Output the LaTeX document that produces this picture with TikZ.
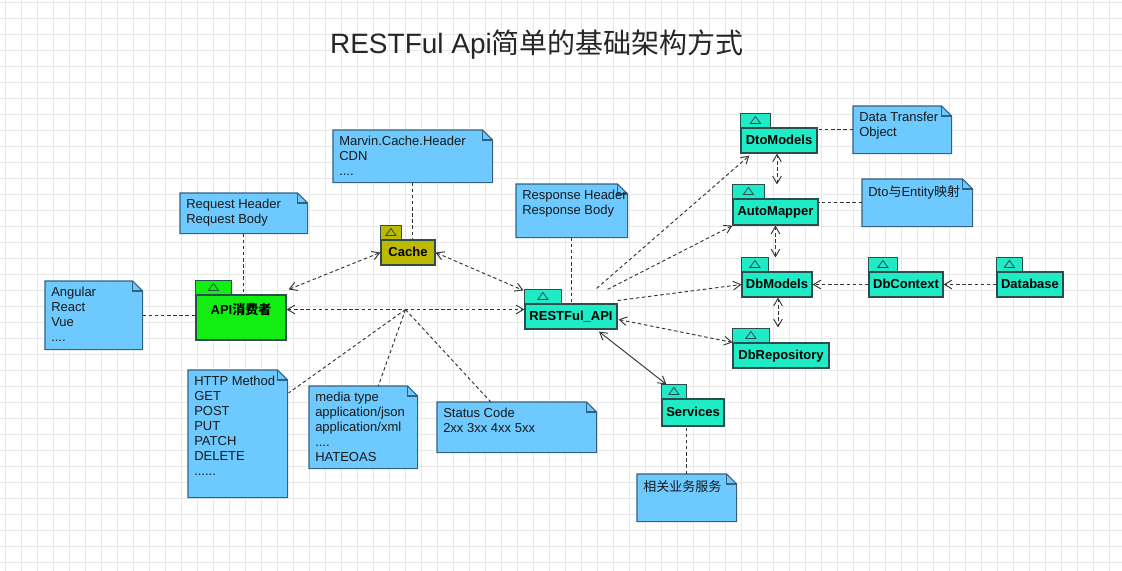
\documentclass[tikz,border=0pt]{standalone}
\usepackage{fontspec}
\setmainfont{Liberation Sans}
\newfontfamily\cjk{Noto Sans CJK SC}
\usetikzlibrary{arrows.meta,calc,backgrounds}

\definecolor{pkggreen}{HTML}{12EE12}
\definecolor{pkgolive}{HTML}{BDB800}
\definecolor{pkgteal}{HTML}{1FEBC6}
\definecolor{pkgline}{HTML}{2A4D4D}
\definecolor{notefill}{HTML}{6DC9FE}
\definecolor{noteline}{HTML}{33607F}
\definecolor{linkgray}{HTML}{333333}
\definecolor{gridgray}{HTML}{E8E8E8}

\tikzset{
  pkg/.style={draw=pkgline, line width=0.9pt, inner sep=0pt,
    text height=7.2pt, text depth=1.8pt,
    font=\fontsize{9.75}{11}\selectfont\bfseries},
  note/.style={anchor=north west, inner xsep=4.5pt, inner ysep=4.5pt,
    font=\fontsize{9.75}{11.25}\selectfont, text=black!90},
  link/.style={linkgray, line width=0.7pt, dash pattern=on 2.6pt off 2pt},
}

% note text box: width px, height px, text
\newcommand\notetext[3]{\begin{minipage}[c][\dimexpr#2pt*3/4-9pt\relax][t]{\dimexpr#1pt*3/4-9pt\relax}\raggedright\rightskip=0pt minus 20pt#3\end{minipage}}
% package tab: node, tab width px, fill
\newcommand\pkgtab[3]{%
  \draw[draw=pkgline, line width=0.9pt, fill=#3] (#1.north west) rectangle ++(#2,-14);
  \draw[pkgline, line width=0.6pt] ($(#1.north west)+(#2/2-5,-4)$) -- ++(10,0) -- ++(-5,-7) -- cycle;
}
% note outline with folded corner
\newcommand\noteshape[1]{%
  \draw[draw=noteline, line width=0.8pt, fill=notefill]
    (#1.north west) -- ($(#1.north east)+(-10,0)$) -- ($(#1.north east)+(0,10)$)
    -- (#1.south east) -- (#1.south west) -- cycle;
  \draw[noteline, line width=0.8pt] ($(#1.north east)+(-10,0)$) -- ++(0,10) -- ($(#1.north east)+(0,10)$);
}

\begin{document}
\begin{tikzpicture}[x=0.75pt, y=-0.75pt, >={Straight Barb[length=5.5pt,width=6.5pt]}]
  \useasboundingbox (0,0) rectangle (1122,571);
  % Grid
  \begin{scope}[on background layer]
    \fill[white] (0,0) rectangle (1122,571);
    \foreach \gx in {5,21,...,1121} \draw[gridgray, line width=0.6pt] (\gx,0) -- (\gx,571);
    \foreach \gy in {2,18,...,570} \draw[gridgray, line width=0.6pt] (0,\gy) -- (1122,\gy);
  \end{scope}
  % Title
  \node[font=\fontsize{21}{24}\selectfont, text=black!85] (title) at (537,45) {RESTFul Api{\cjk 简单的基础架构方式}};
  % Packages
  \node[pkg, fill=pkggreen, minimum width=90*0.75pt, text height=14.6pt, text depth=19.1pt] (api) at (241,317.5) {API{\cjk 消费者}};
  \node[pkg, fill=pkgolive, minimum width=54*0.75pt, minimum height=25*0.75pt] (cache) at (408,252.5) {Cache};
  \node[pkg, fill=pkgteal, minimum width=92*0.75pt, minimum height=25*0.75pt] (rest) at (571,316.5) {RESTFul\_API};
  \node[pkg, fill=pkgteal, minimum width=76*0.75pt, minimum height=25*0.75pt] (dto) at (779,140.5) {DtoModels};
  \node[pkg, fill=pkgteal, minimum width=85*0.75pt, minimum height=26*0.75pt] (automap) at (775.5,212) {AutoMapper};
  \node[pkg, fill=pkgteal, minimum width=70*0.75pt, minimum height=25*0.75pt] (dbmodels) at (777,284.5) {DbModels};
  \node[pkg, fill=pkgteal, minimum width=74*0.75pt, minimum height=25*0.75pt] (dbcontext) at (906,284.5) {DbContext};
  \node[pkg, fill=pkgteal, minimum width=66*0.75pt, minimum height=25*0.75pt] (database) at (1030,284.5) {Database};
  \node[pkg, fill=pkgteal, minimum width=96*0.75pt, minimum height=25*0.75pt] (dbrepo) at (781,355.5) {DbRepository};
  \node[pkg, fill=pkgteal, minimum width=62*0.75pt, minimum height=27*0.75pt] (services) at (693,412.5) {Services};
  \pkgtab{api}{36}{pkggreen}
  \pkgtab{cache}{21}{pkgolive}
  \pkgtab{rest}{37}{pkgteal}
  \pkgtab{dto}{30}{pkgteal}
  \pkgtab{automap}{32}{pkgteal}
  \pkgtab{dbmodels}{27}{pkgteal}
  \pkgtab{dbcontext}{29}{pkgteal}
  \pkgtab{database}{26}{pkgteal}
  \pkgtab{dbrepo}{37}{pkgteal}
  \pkgtab{services}{25}{pkgteal}
  % Notes
  \node[note] (reqnote) at (180,193) {\notetext{127}{40}{Request Header\\Request Body}};
  \node[note] (cachenote) at (333,130) {\notetext{159}{52}{Marvin.Cache.Header\\CDN\\....}};
  \node[note] (respnote) at (516,184) {\notetext{111}{53}{Response~Header\\Response~Body}};
  \node[note] (dtonote) at (853,106) {\notetext{98}{47}{Data Transfer\\Object}};
  \node[note] (mapnote) at (862,179) {\notetext{110}{47}{Dto{\cjk 与}Entity{\cjk 映射}}};
  \node[note] (clientnote) at (45,281) {\notetext{97}{68}{Angular\\React\\Vue\\....}};
  \node[note] (methodnote) at (188,370) {\notetext{99}{127}{HTTP~Method\\GET\\POST\\PUT\\PATCH\\DELETE\\......}};
  \node[note] (medianote) at (309,386) {\notetext{108}{82}{media type\\application/json\\application/xml\\....\\HATEOAS}};
  \node[note] (statusnote) at (437,402) {\notetext{159}{50}{Status Code\\2xx 3xx 4xx 5xx}};
  \node[note] (svcnote) at (637,474) {\notetext{99}{47}{\cjk 相关业务服务}};
  \begin{scope}[on background layer]
    \foreach \n in {reqnote,cachenote,respnote,dtonote,mapnote,clientnote,methodnote,medianote,statusnote,svcnote}
      {\noteshape{\n}}
  \end{scope}
  % Note links
  \draw[link] (clientnote.east) -- (clientnote.east -| api.west);
  \draw[link] (reqnote.south) -- (reqnote.south |- api.north);
  \draw[link] (cachenote.south) -- (cachenote.south |- cache.north);
  \draw[link] (respnote.south) -- (respnote.south |- rest.north);
  \draw[link] (dtonote.west) -- (dtonote.west -| dto.east);
  \draw[link] (mapnote.west) -- (mapnote.west -| automap.east);
  \draw[link] (svcnote.north) -- (svcnote.north |- services.south);
  % Consumer, cache and api
  \draw[link, <->] ($(api.north east)+(2,-5)$) -- (cache.west);
  \draw[link, <->] ([yshift=6pt]api.east) -- coordinate[pos=0.5] (apimid) ([yshift=6pt]api.east -| rest.west);
  \draw[link, <->] (cache.east) -- ($(rest.north west)+(-1,-13)$);
  \draw[link] (apimid) -- ($(methodnote.north east)+(1,23)$);
  \draw[link] (apimid) -- ($(medianote.north)+(15,0)$);
  \draw[link] (apimid) -- ($(statusnote.north)+(-26,0)$);
  % Api to the model side
  \draw[link, ->] ($(rest.north east)+(-21,-15)$) -- ($(dto.south west)+(9,2)$);
  \draw[link, ->] ($(rest.north east)+(-10,-14)$) -- (automap.south west);
  \draw[link, ->] ($(rest.east)+(0,-16)$) -- (dbmodels.west);
  \draw[link, <->] ($(rest.east)+(1,3)$) -- (dbrepo.north west);
  \draw[linkgray, line width=0.7pt, <->] ($(rest.south)+(28,2)$) -- ($(services.north west)+(5,-14)$);
  % Model chain
  \draw[link, <->] ($(dto.south)+(-2,0)$) -- ($(automap.north)+(1.5,-14)$);
  \draw[link, <->] (automap.south) -- ($(dbmodels.north)+(-1.5,-14)$);
  \draw[link, <->] ($(dbmodels.south)+(1,0)$) -- ($(dbrepo.north)+(-3,-15)$);
  \draw[link, ->] (dbcontext.west) -- (dbmodels.east);
  \draw[link, ->] (database.west) -- (dbcontext.east);
\end{tikzpicture}
\end{document}
